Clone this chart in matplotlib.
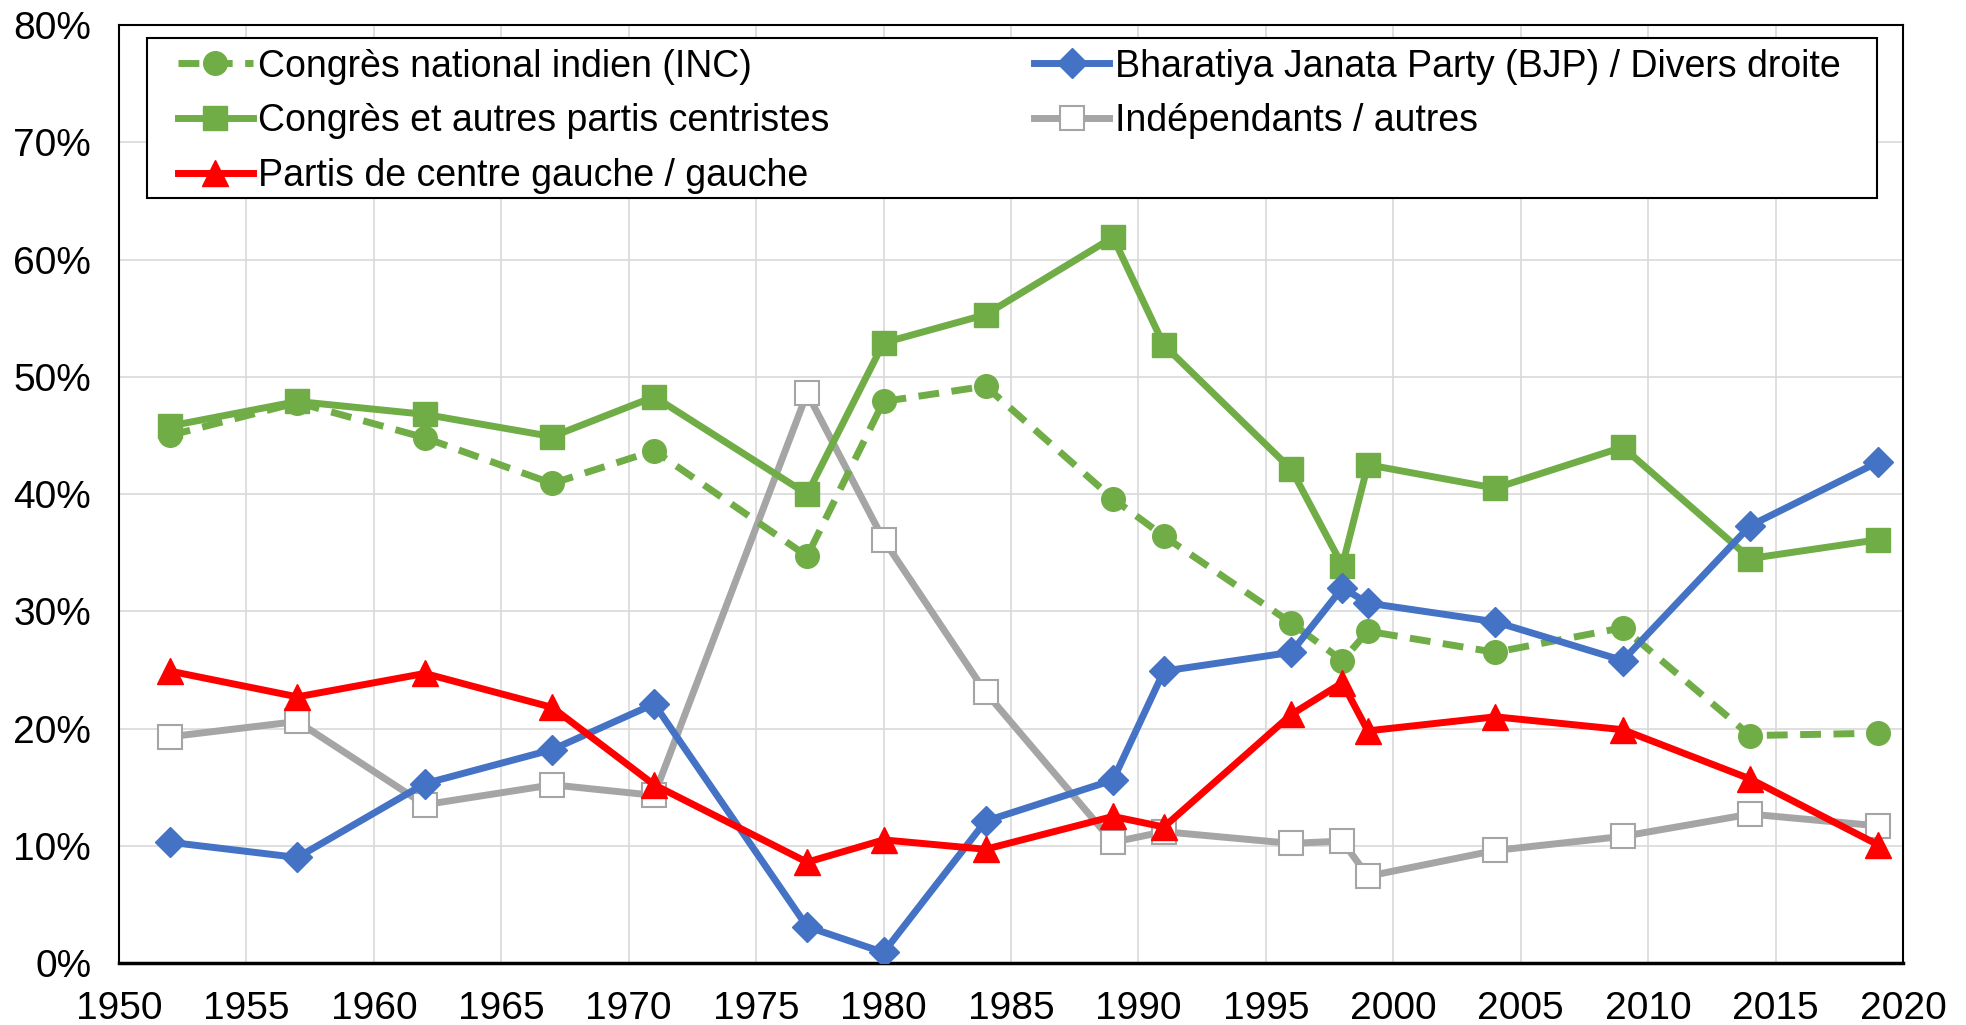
import matplotlib
matplotlib.use("Agg")
import matplotlib.pyplot as plt
from matplotlib.patches import Rectangle
from matplotlib.ticker import FuncFormatter, MultipleLocator

plt.rcParams['font.family'] = ['Liberation Sans', 'DejaVu Sans']

years = [1952, 1957, 1962, 1967, 1971, 1977, 1980, 1984, 1989, 1991, 1996, 1998, 1999, 2004, 2009, 2014, 2019]
inc = [45.0, 47.8, 44.8, 40.9, 43.7, 34.7, 47.9, 49.2, 39.6, 36.4, 29.0, 25.8, 28.3, 26.5, 28.6, 19.4, 19.6]
congress_centrists = [45.8, 47.9, 46.8, 44.9, 48.3, 40.0, 52.9, 55.3, 61.9, 52.7, 42.1, 33.9, 42.5, 40.5, 44.0, 34.5, 36.1]
left = [24.9, 22.7, 24.7, 21.8, 15.2, 8.6, 10.5, 9.7, 12.5, 11.6, 21.2, 23.9, 19.8, 21.0, 19.9, 15.7, 10.1]
bjp = [10.3, 9.0, 15.3, 18.2, 22.1, 3.1, 0.9, 12.1, 15.6, 24.9, 26.5, 32.0, 30.7, 29.1, 25.8, 37.3, 42.7]
independents = [19.3, 20.6, 13.5, 15.2, 14.3, 48.6, 36.1, 23.1, 10.3, 11.2, 10.2, 10.4, 7.4, 9.6, 10.8, 12.7, 11.7]

labels = ["Congrès national indien (INC)", "Congrès et autres partis centristes",
          "Partis de centre gauche / gauche", "Bharatiya Janata Party (BJP) / Divers droite",
          "Indépendants / autres"]

green = "#70AD47"
blue = "#4472C4"
red = "#FF0000"
gray = "#A5A5A5"

fig = plt.figure(figsize=(19.66, 10.25), dpi=100)
ax = fig.add_axes([0.0605, 0.0605, 0.9075, 0.915])

lw = 5
l1, = ax.plot(years, inc, color=green, lw=lw, ls=(0, (3, 1.8)), marker='o', ms=17, label=labels[0], zorder=3)
l2, = ax.plot(years, congress_centrists, color=green, lw=lw, marker='s', ms=17, label=labels[1], zorder=3)
l3, = ax.plot(years, left, color=red, lw=lw, marker='^', ms=19, label=labels[2], zorder=5)
l4, = ax.plot(years, bjp, color=blue, lw=lw, marker='D', ms=15, label=labels[3], zorder=4)
l5, = ax.plot(years, independents, color=gray, lw=lw, marker='s', ms=17, mfc='white', mec=gray, mew=1.5,
              label=labels[4], zorder=2)

ax.set_xlim(1950, 2020)
ax.set_ylim(0, 80)
ax.xaxis.set_major_locator(MultipleLocator(5))
ax.yaxis.set_major_locator(MultipleLocator(10))
ax.yaxis.set_major_formatter(FuncFormatter(lambda v, p: f"{int(round(v))}%"))
ax.grid(True, color="#D9D9D9", lw=1.2, zorder=0)
ax.set_axisbelow(True)
ax.tick_params(axis='both', labelsize=28, length=0)
ax.tick_params(axis='y', pad=20)
ax.tick_params(axis='x', pad=20)
for s in ax.spines.values():
    s.set_color("black")
    s.set_linewidth(1.5)
ax.spines['bottom'].set_linewidth(2.5)

# legend box
box = Rectangle((0.01546, 0.8155), 0.9698, 0.1711, transform=ax.transAxes,
                facecolor='white', edgecolor='black', lw=1.5, zorder=9)
ax.add_patch(box)

leg = ax.legend(handles=[l1, l2, l3, l4, l5], ncol=2, loc='upper left',
                bbox_to_anchor=(0.0330, 0.9740, 0.9320, 0.001), mode='expand',
                fontsize=27, frameon=False,
                handlelength=2.0, handletextpad=0.15, borderaxespad=0, labelspacing=0.5,
                borderpad=0, numpoints=1)
leg.set_zorder(10)

fig.savefig("out.png", dpi=100)
